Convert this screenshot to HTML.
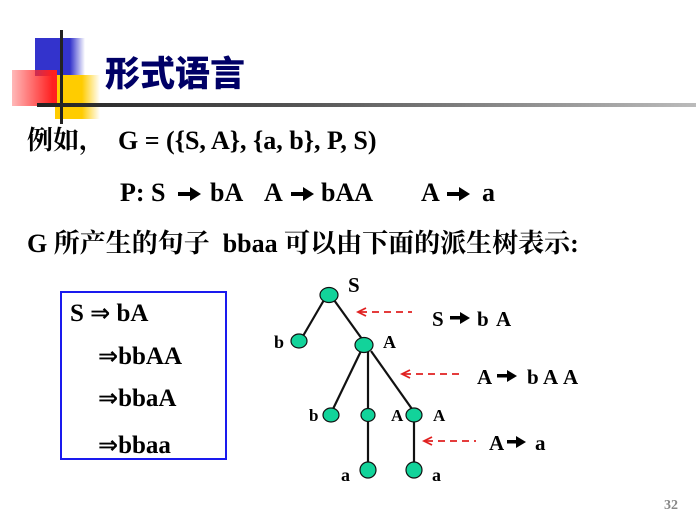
<!DOCTYPE html>
<html><head><meta charset="utf-8"><style>
html,body{margin:0;padding:0;background:#fff;}
body{width:696px;height:523px;position:relative;overflow:hidden;font-family:"Liberation Serif","Noto Serif CJK SC",serif;}
.t{position:absolute;font-weight:bold;font-size:26px;color:#000;white-space:pre;line-height:1;}
.d{position:absolute;font-weight:bold;font-size:25px;color:#000;white-space:pre;line-height:1;}
.a{font-family:"DejaVu Sans",sans-serif;font-size:24px;}
</style></head><body>
<div style="position:absolute;left:35px;top:38px;width:50px;height:38px;background:linear-gradient(to right,#3333cc 0,#3333cc 70%,rgba(51,51,204,0) 100%)"></div>
<div style="position:absolute;left:55px;top:75px;width:45px;height:44px;background:linear-gradient(to right,#ffcc00 0,#ffcc00 60%,rgba(255,204,0,0) 100%)"></div>
<div style="position:absolute;left:12px;top:70px;width:45px;height:36px;background:linear-gradient(to right,rgba(255,80,80,0.4),#ff2020 90%)"></div>
<div style="position:absolute;left:60px;top:30px;width:3px;height:94px;background:#222"></div>
<div style="position:absolute;left:37px;top:103px;width:659px;height:4px;background:linear-gradient(to right,#222,#555 40%,#bbb 100%)"></div>
<div class="t" style="left:105px;top:54px;font-size:35px;color:#000066;font-family:'Noto Sans CJK SC',sans-serif;font-weight:900">形式语言</div>

<div class="t" style="left:27px;top:128px">例如，</div>
<div class="t" style="left:118px;top:128px">G = ({S, A}, {a, b}, P, S)</div>
<div class="t" style="left:120px;top:180px">P: S</div>
<div class="t" style="left:210px;top:180px">bA</div>
<div class="t" style="left:264px;top:180px">A</div>
<div class="t" style="left:321px;top:180px">bAA</div>
<div class="t" style="left:421px;top:180px">A</div>
<div class="t" style="left:482px;top:180px">a</div>
<div class="t" style="left:27px;top:231px">G 所产生的句子  bbaa 可以由下面的派生树表示:</div>

<div style="position:absolute;left:60px;top:291px;width:163px;height:165px;border:2px solid #1a1aee"></div>
<div class="d" style="left:70px;top:301px">S <span class="a">⇒</span> bA</div>
<div class="d" style="left:98px;top:344px"><span class="a">⇒</span>bbAA</div>
<div class="d" style="left:98px;top:386px"><span class="a">⇒</span>bbaA</div>
<div class="d" style="left:98px;top:433px"><span class="a">⇒</span>bbaa</div>

<svg style="position:absolute;left:0;top:0" width="696" height="523">
<g fill="#000">
<rect x="178" y="192" width="14" height="4"/><path d="M190,187 L201,194 L190,201 Z"/>
<rect x="291" y="192" width="14" height="4"/><path d="M303,187 L314,194 L303,201 Z"/>
<rect x="447" y="192" width="14" height="4"/><path d="M459,187 L470,194 L459,201 Z"/>
<rect x="450" y="316" width="12" height="3.5"/><path d="M460,312 L470,318 L460,324 Z"/>
<rect x="497" y="374" width="12" height="3.5"/><path d="M507,370 L517,376 L507,382 Z"/>
<rect x="507" y="440" width="11" height="3.5"/><path d="M516,436 L526,442 L516,448 Z"/>
</g>
<g stroke="#111" stroke-width="2.2">
<line x1="324" y1="300" x2="303" y2="336"/>
<line x1="334" y1="300" x2="362" y2="339"/>
<line x1="361" y1="351" x2="333" y2="409"/>
<line x1="368" y1="352" x2="368" y2="409"/>
<line x1="371" y1="351" x2="412" y2="409"/>
<line x1="368" y1="421" x2="368" y2="462"/>
<line x1="414" y1="421" x2="414" y2="462"/>
</g>
<g fill="#12d39a" stroke="#111" stroke-width="1.2">
<ellipse cx="329" cy="295" rx="9" ry="7.5"/>
<ellipse cx="299" cy="341" rx="8" ry="7"/>
<ellipse cx="364" cy="345" rx="9" ry="7.5"/>
<ellipse cx="331" cy="415" rx="8" ry="7"/>
<ellipse cx="368" cy="415" rx="7" ry="6.5"/>
<ellipse cx="414" cy="415" rx="8" ry="7"/>
<ellipse cx="368" cy="470" rx="8" ry="8"/>
<ellipse cx="414" cy="470" rx="8" ry="8"/>
</g>
<g stroke="#e02020" stroke-width="1.8" stroke-dasharray="7,5" fill="none">
<line x1="360" y1="312" x2="412" y2="312"/>
<line x1="404" y1="374" x2="460" y2="374"/>
<line x1="426" y1="441" x2="476" y2="441"/>
</g>
<g stroke="#e02020" stroke-width="1.8" fill="none">
<path d="M366,308 L358,312 L366,316"/>
<path d="M410,370 L402,374 L410,378"/>
<path d="M432,437 L424,441 L432,445"/>
</g>
<g font-family="Liberation Serif,serif" font-weight="bold" fill="#000">
<text x="348" y="292" font-size="21">S</text>
<text x="274" y="348" font-size="18">b</text>
<text x="383" y="348" font-size="18">A</text>
<text x="309" y="421" font-size="17">b</text>
<text x="391" y="421" font-size="17">A</text>
<text x="433" y="421" font-size="17">A</text>
<text x="341" y="481" font-size="18">a</text>
<text x="432" y="481" font-size="18">a</text>
<g font-size="21">
<text x="432" y="326">S</text><text x="477" y="326">b</text><text x="496" y="326">A</text>
<text x="477" y="384">A</text><text x="527" y="384">b</text><text x="543" y="384">A</text><text x="563" y="384">A</text>
<text x="489" y="450">A</text><text x="535" y="450">a</text>
</g>
<text x="664" y="509" font-size="14" fill="#888">32</text>
</g>
</svg>
</body></html>
